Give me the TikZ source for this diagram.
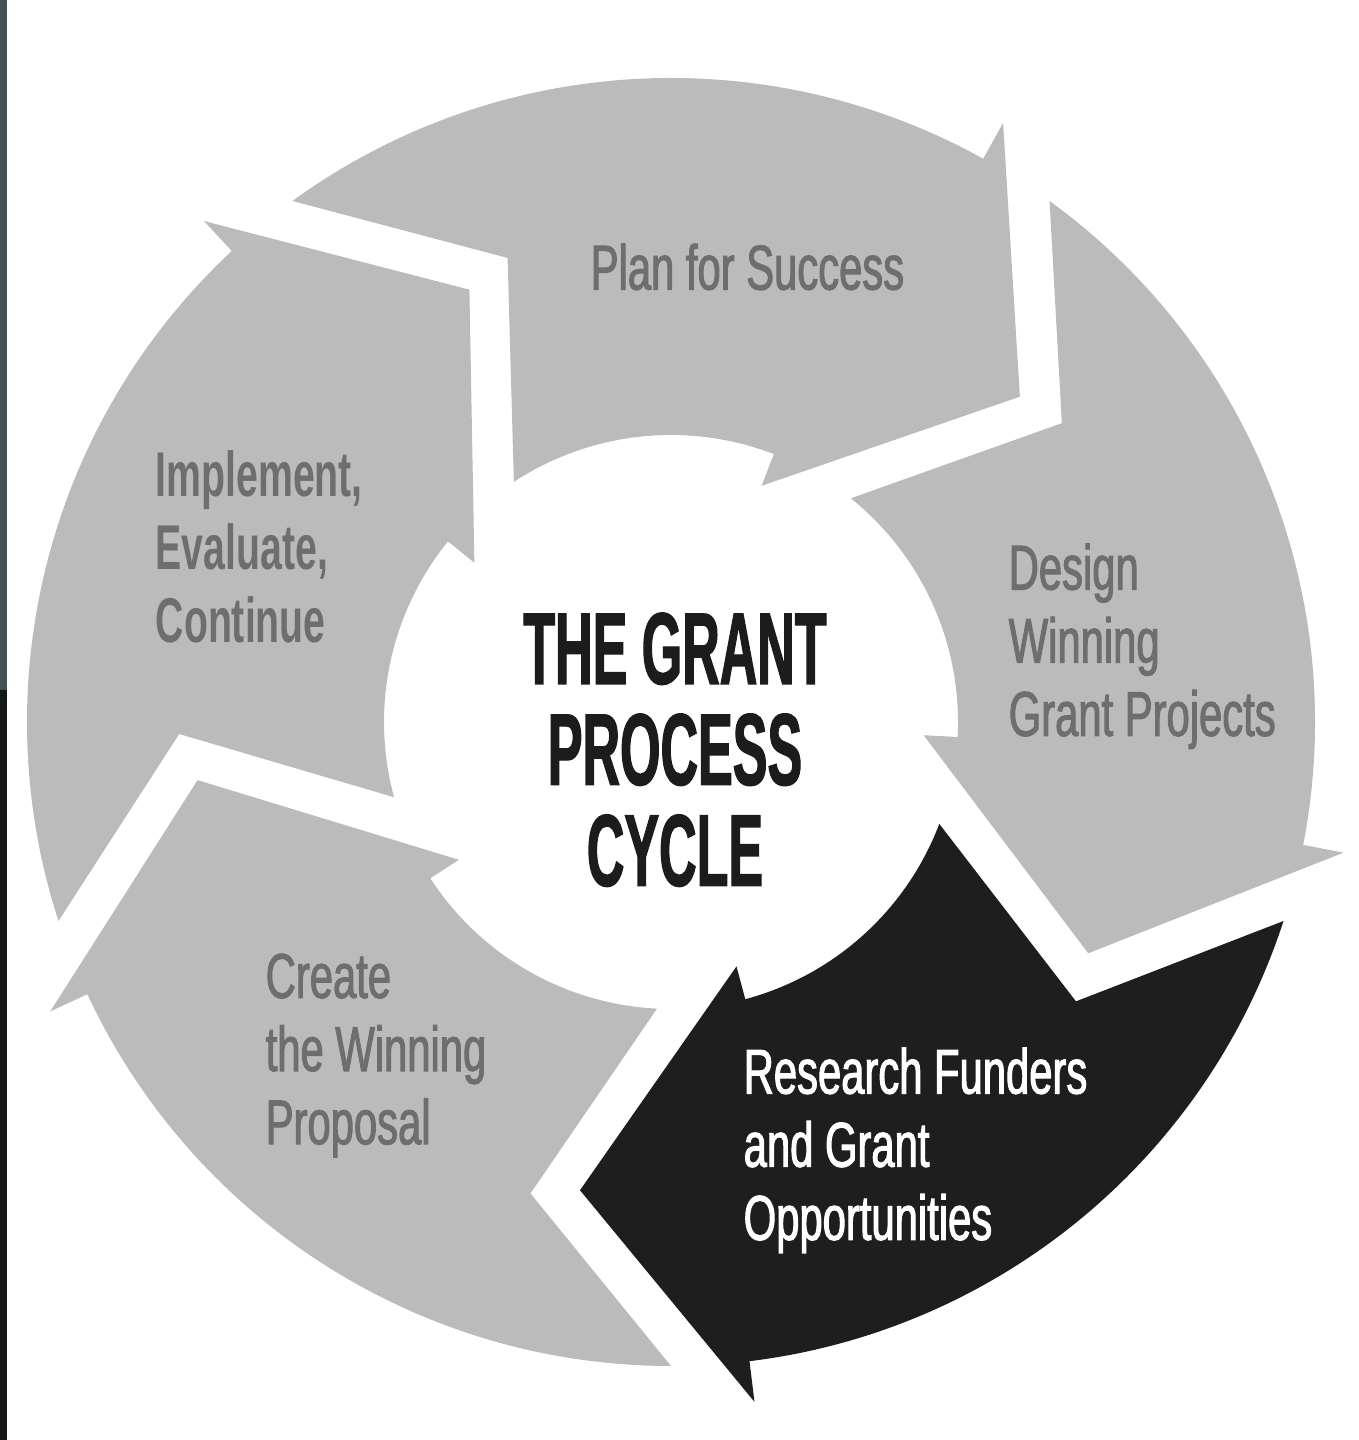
\documentclass[tikz,border=0pt]{standalone}
\usepackage{fontspec}
\usepackage{tikz}
\definecolor{arrowgray}{RGB}{187,187,187}
\definecolor{arrowdark}{RGB}{30,30,30}
\definecolor{labelgray}{RGB}{110,110,110}
\definecolor{titleblack}{RGB}{28,28,28}
\definecolor{stripslate}{RGB}{68,82,86}
\definecolor{stripdark}{RGB}{20,25,24}
\newfontfamily\stagefont{Liberation Sans}[FakeStretch=0.66,FakeBold=1.6]
\newfontfamily\implfont{Liberation Sans}[FakeStretch=0.62]
\newfontfamily\headfont{Liberation Sans}[FakeStretch=0.51,FakeBold=1.2]

\begin{document}
\begin{tikzpicture}[x=0.01cm,y=0.01cm,
    stage/.style={anchor=north west,inner sep=0pt,align=left,text=labelgray,
      font=\stagefont\fontsize{18}{20.8}\selectfont},
    title/.style={anchor=north,inner sep=0pt,align=center,text=titleblack,
      font=\headfont\bfseries\fontsize{29}{28.7}\selectfont}]

    \useasboundingbox (0,0) rectangle (1358,1440);
    % scanned edge on the left
    \fill[stripslate] (0,1440) rectangle (7,750);
    \fill[stripdark] (0,750) rectangle (7,0);

    % the five arrows of the ring, tail angle / colour
    \begin{scope}[shift={(671,718)}]
      \foreach \tail/\segcol in {126/arrowgray,54/arrowgray,-18/arrowdark,-90/arrowgray,-162/arrowgray}
        \fill[\segcol] (\tail:644) arc[start angle=\tail, delta angle=-65, radius=644]
          -- ({\tail-65}:685) -- ({\tail-83}:477) -- ({\tail-57}:253) -- ({\tail-57}:287)
          arc[start angle=\tail-57, end angle=\tail-2.8, radius=287]
          -- ({\tail-16.6}:492) -- cycle;
    \end{scope}

    \node[stage] (plan) at (590,1197) {Plan for Success};
    \node[stage] (design) at (1008,897) {Design\\Winning\\Grant Projects};
    \node[stage,text=white] (research) at (743,393) {Research Funders\\and Grant\\Opportunities};
    \node[stage] (create) at (265,487) {Create\\the Winning\\Proposal};
    \node[stage,font=\implfont\bfseries\fontsize{18}{20.8}\selectfont] (implement) at (155,990) {Implement,\\Evaluate,\\Continue};

    \node[title] (cycle) at (675,828) {THE GRANT\\PROCESS\\CYCLE};
\end{tikzpicture}
\end{document}
